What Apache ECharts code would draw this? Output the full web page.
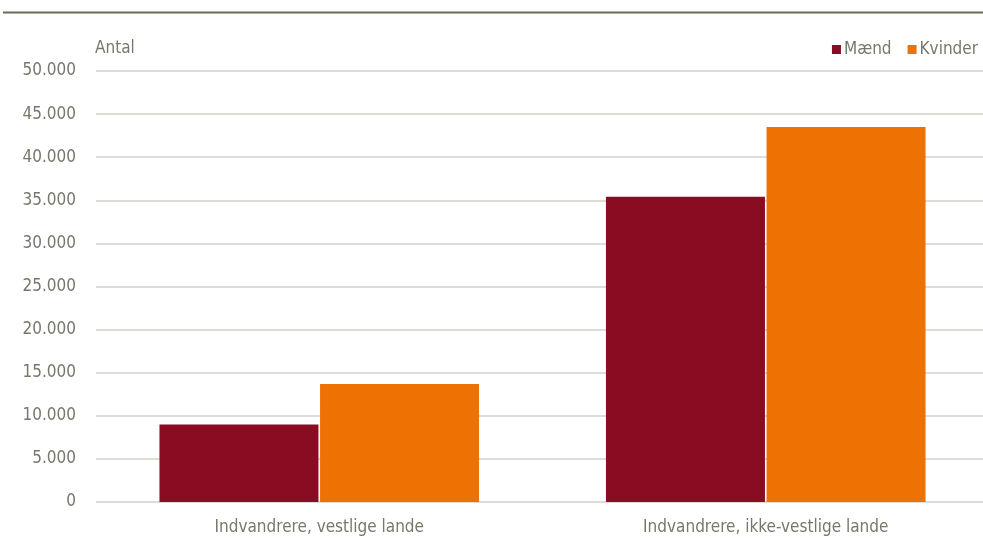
<!DOCTYPE html>
<html><head><meta charset="utf-8">
<script src="https://cdn.jsdelivr.net/npm/echarts@6/dist/echarts.min.js"></script>
<style>html,body{margin:0;padding:0;background:#fff}#c{width:983px;height:547px}</style>
</head><body><div id="c"></div>
<script>
const categories = ['Indvandrere, vestlige lande', 'Indvandrere, ikke-vestlige lande'];
const seriesNames = ['Mænd', 'Kvinder'];
const maend = [9000, 35400];
const kvinder = [13700, 43500];
const yTicks = [0, 5000, 10000, 15000, 20000, 25000, 30000, 35000, 40000, 45000, 50000];

const FONT = '"Liberation Sans Narrow", "Arial Narrow", "DejaVu Sans Condensed", sans-serif';
const TXT = '#77776b';
const chart = echarts.init(document.getElementById('c'));
chart.setOption({
  animation: false,
  textStyle: {fontFamily: FONT},
  graphic: [{type: 'line', shape: {x1: 3, y1: 12.5, x2: 983, y2: 12.5}, style: {stroke: '#6f6b57', lineWidth: 2}}],
  legend: {
    right: 0, top: 36, itemWidth: 9, itemHeight: 9, itemGap: 16, icon: 'rect',
    textStyle: {color: TXT, fontSize: 17, fontFamily: FONT, padding: [0, 0, 0, -2]},
    data: seriesNames
  },
  grid: {left: 96, width: 893, top: 71, height: 431, outerBoundsMode: 'none', containLabel: false},
  xAxis: {
    type: 'category', data: categories,
    axisLine: {show: false}, axisTick: {show: false},
    axisLabel: {color: TXT, fontSize: 17, fontFamily: FONT, margin: 17}
  },
  yAxis: {
    type: 'value', min: 0, max: 50000, interval: 5000,
    name: 'Antal', nameLocation: 'end', nameGap: 14,
    nameTextStyle: {color: TXT, fontSize: 17, fontFamily: FONT, align: 'left', padding: [0, 0, 0, -1]},
    axisLine: {show: false}, axisTick: {show: false},
    splitLine: {lineStyle: {color: '#d2d1ca', width: 1.5}},
    axisLabel: {color: TXT, fontSize: 17, fontFamily: FONT, margin: 20,
      formatter: v => yTicks.includes(v) ? v.toLocaleString('de-DE') : ''}
  },
  series: [
    {name: seriesNames[0], type: 'bar', data: maend, barWidth: 159, barGap: '1%',
     itemStyle: {color: '#8a0c23'}},
    {name: seriesNames[1], type: 'bar', data: kvinder, barWidth: 159,
     itemStyle: {color: '#ee7203'}}
  ]
});
</script></body></html>
